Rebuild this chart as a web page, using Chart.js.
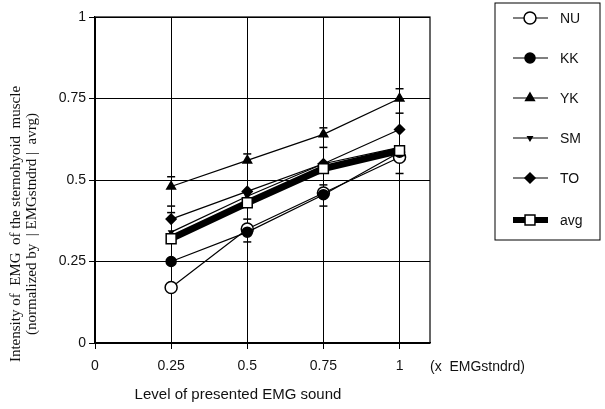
<!DOCTYPE html>
<html>
<head>
<meta charset="utf-8">
<script src="https://cdn.jsdelivr.net/npm/chart.js@4/dist/chart.umd.min.js"></script>
<style>
  html, body { margin: 0; padding: 0; background: #fff; }
  #wrap { width: 605px; height: 409px; }
</style>
</head>
<body>
<div id="wrap"><canvas id="emg" width="605" height="409"></canvas></div>
<script>
// presented levels (x EMGstndrd)
const levels = [0.25, 0.5, 0.75, 1];

// normalized EMG intensity per subject
const nu = [0.17, 0.35, 0.46, 0.57];
const kk = [0.25, 0.34, 0.455, 0.585];
const yk = [0.48, 0.56, 0.64, 0.75];
const sm = [0.34, 0.45, 0.55, 0.60];
const to = [0.38, 0.465, 0.55, 0.655];
const avg = [0.32, 0.43, 0.535, 0.59];

// error bar caps seen along the grid lines
const capX = [0.25, 0.25, 0.25, 0.5, 0.5, 0.5, 0.75, 0.75, 0.75, 0.75, 1, 1, 1];
const capY = [0.51, 0.42, 0.40, 0.58, 0.38, 0.31, 0.66, 0.60, 0.485, 0.42, 0.78, 0.705, 0.52];

const yTicks = [0, 0.25, 0.5, 0.75, 1];

const pts = arr => arr.map((v, i) => ({x: levels[i], y: v}));

const series = [
  {label: 'NU', data: nu, pointStyle: 'circle', radius: 6, fill: '#fff', width: 1.2},
  {label: 'KK', data: kk, pointStyle: 'circle', radius: 5, fill: '#000', width: 1.2},
  {label: 'YK', data: yk, pointStyle: 'triangle', radius: 5, fill: '#000', width: 1.2},
  {label: 'SM', data: sm, pointStyle: 'triangle', radius: 2.5, fill: '#000', width: 1.2, rot: 180},
  {label: 'TO', data: to, pointStyle: 'rectRot', radius: 5, fill: '#000', width: 1.2},
  {label: 'avg', data: avg, pointStyle: 'rect', radius: 7, fill: '#fff', width: 7}
];

const datasets = series.map(s => ({
  label: s.label,
  data: pts(s.data),
  showLine: true,
  borderColor: '#000',
  borderWidth: s.width,
  pointStyle: s.pointStyle,
  pointRadius: s.radius,
  pointRotation: s.rot || 0,
  pointBackgroundColor: s.fill,
  pointBorderColor: '#000',
  pointBorderWidth: 1.5,
  tension: 0
}));

datasets.push({
  label: 'caps',
  data: capX.map((x, i) => ({x: x, y: capY[i]})),
  showLine: false,
  pointStyle: 'line',
  pointRadius: 4,
  pointBorderColor: '#000',
  pointBorderWidth: 1.5
});

// draw datasets back to front so avg sits on top
datasets.forEach((d, i) => { d.order = datasets.length - i; });
datasets[5].order = 0;

const SANS = '"Liberation Sans", Arial, sans-serif';

const extras = {
  id: 'extras',
  afterDraw(chart) {
    const ctx = chart.ctx;
    const a = chart.chartArea;
    ctx.save();
    // plot frame
    ctx.strokeStyle = '#000';
    ctx.lineWidth = 1.2;
    ctx.strokeRect(a.left, a.top, a.right - a.left, a.bottom - a.top);

    // unit after x ticks and x title
    ctx.fillStyle = '#111';
    ctx.font = '14px ' + SANS;
    ctx.textBaseline = 'middle';
    ctx.textAlign = 'left';
    ctx.fillText('(x  EMGstndrd)', 430, 367);
    ctx.textAlign = 'center';
    ctx.font = '15px ' + SANS;
    ctx.fillText('Level of presented EMG sound', 238, 395);

    // y title, two lines
    ctx.save();
    ctx.translate(16, 224);
    ctx.rotate(-Math.PI / 2);
    ctx.textAlign = 'center';
    ctx.font = '15px "Liberation Serif", "Times New Roman", serif';
    ctx.fillText('Intensity of  EMG  of the sternohyoid  muscle', 0, 0);
    ctx.fillText('(normalized by  | EMGstndrd |  avrg)', 0, 16);
    ctx.restore();

    // legend box
    const bx = 495, by = 3, bw = 105, bh = 237;
    ctx.lineWidth = 1;
    ctx.strokeRect(bx, by, bw, bh);
    const rowY = [18, 58, 98, 138, 178, 220];
    const draw = Chart.helpers && Chart.helpers.drawPoint;
    series.forEach((s, i) => {
      const y = rowY[i];
      ctx.beginPath();
      ctx.lineWidth = s.width === 7 ? 6 : 1.2;
      ctx.strokeStyle = '#000';
      ctx.moveTo(513, y);
      ctx.lineTo(548, y);
      ctx.stroke();
      if (draw) {
        ctx.fillStyle = s.fill;
        ctx.strokeStyle = '#000';
        ctx.lineWidth = 1.5;
        draw(ctx, {pointStyle: s.pointStyle, radius: s.radius, rotation: s.rot || 0, borderWidth: 1.5}, 530, y);
      }
      ctx.fillStyle = '#111';
      ctx.font = '14px ' + SANS;
      ctx.textAlign = 'left';
      ctx.fillText(s.label, 560, y + 1);
    });
    ctx.restore();
  }
};

new Chart(document.getElementById('emg'), {
  type: 'scatter',
  data: {datasets: datasets},
  plugins: [extras],
  options: {
    responsive: false,
    animation: false,
    layout: {padding: {left: 0, right: 175, top: 17, bottom: 0}},
    plugins: {
      legend: {display: false},
      tooltip: {enabled: false}
    },
    scales: {
      x: {
        type: 'linear',
        min: 0,
        max: 1.1,
        afterFit: s => { s.height = 66; },
        ticks: {
          stepSize: 0.25,
          includeBounds: false,
          color: '#111',
          padding: 9,
          callback: v => String(v),
          font: {family: SANS, size: 14}
        },
        grid: {color: '#000', lineWidth: 1, tickLength: 6, drawTicks: true},
        border: {color: '#000', width: 1.2}
      },
      y: {
        type: 'linear',
        min: 0,
        max: 1,
        afterFit: s => { s.width = 95; },
        afterBuildTicks: s => { s.ticks = yTicks.map(v => ({value: v})); },
        ticks: {
          color: '#111',
          padding: 3,
          callback: v => String(v),
          font: {family: SANS, size: 14}
        },
        grid: {color: '#000', lineWidth: 1, tickLength: 6},
        border: {color: '#000', width: 1.2}
      }
    }
  }
});
</script>
</body>
</html>
